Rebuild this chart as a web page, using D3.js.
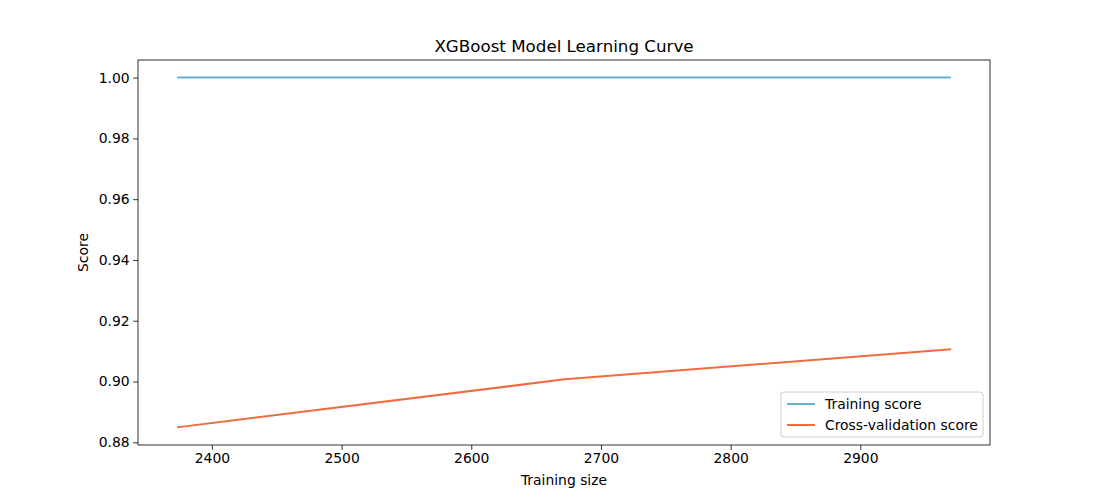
<!DOCTYPE html>
<html lang="en">
<head>
<meta charset="UTF-8">
<title>XGBoost Model Learning Curve</title>
<script src="https://d3js.org/d3.v7.min.js"></script>
<style>
  body { margin: 0; background: #fff; }
  text { font-family: "DejaVu Sans", sans-serif; fill: #000; }
</style>
</head>
<body>
<svg id="chart" width="1100" height="500"></svg>
<script>
// data
var trainSizes = [2373, 2672, 2970];
var trainScores = [1.0, 1.0, 1.0];
var cvScores = [0.8849, 0.9007, 0.9106];
var xTicks = [2400, 2500, 2600, 2700, 2800, 2900];
var yTicks = [0.88, 0.90, 0.92, 0.94, 0.96, 0.98, 1.00];
var seriesNames = ["Training score", "Cross-validation score"];
var seriesColors = ["#6aaed6", "#f26b3f"];

(function () {
var svg = d3.select("#chart");
var pLeft = 138, pRight = 990, pTop = 60, pBottom = 445;

var x = d3.scaleLinear().domain([2343, 3000]).range([pLeft, pRight]);
var y = d3.scaleLinear().domain([0.8791, 1.0058]).range([pBottom, pTop]);

var xAxis = d3.axisBottom(x).tickValues(xTicks).tickSize(4.9).tickPadding(3.5).tickFormat(d3.format("d"));
var yAxis = d3.axisLeft(y).tickValues(yTicks).tickSize(4.9).tickPadding(3.5).tickFormat(d3.format(".2f"));

var gx = svg.append("g").attr("transform", "translate(0," + pBottom + ")").call(xAxis);
var gy = svg.append("g").attr("transform", "translate(" + pLeft + ",0)").call(yAxis);
[gx, gy].forEach(function (g) {
    g.select(".domain").remove();
    g.selectAll("text").style("font-size", "13.9px").style("font-family", "DejaVu Sans");
    g.selectAll("line").attr("stroke", "#000").attr("stroke-width", 0.8);
});

var line = d3.line().x(function (d) { return x(d[0]); }).y(function (d) { return y(d[1]); });
[trainScores, cvScores].forEach(function (s, i) {
    svg.append("path")
        .datum(trainSizes.map(function (t, j) { return [t, s[j]]; }))
        .attr("d", line)
        .attr("fill", "none")
        .attr("stroke", seriesColors[i])
        .attr("stroke-width", 2);
});

svg.append("rect").attr("x", pLeft).attr("y", pTop).attr("width", pRight - pLeft).attr("height", pBottom - pTop)
    .attr("fill", "none").attr("stroke", "#000").attr("stroke-width", 0.8);

svg.append("text").attr("x", (pLeft + pRight) / 2).attr("y", pTop - 8).attr("text-anchor", "middle")
    .style("font-size", "16.7px").text("XGBoost Model Learning Curve");
svg.append("text").attr("x", (pLeft + pRight) / 2).attr("y", 485).attr("text-anchor", "middle")
    .style("font-size", "13.9px").text("Training size");
svg.append("text").attr("transform", "translate(88," + (pTop + pBottom) / 2 + ") rotate(-90)")
    .attr("text-anchor", "middle").style("font-size", "13.9px").text("Score");

// legend
var lg = svg.append("g").attr("transform", "translate(781,392)");
lg.append("rect").attr("width", 202).attr("height", 45).attr("rx", 3)
    .attr("fill", "#fff").attr("fill-opacity", 0.8).attr("stroke", "#ccc");
seriesNames.forEach(function (n, i) {
    var yy = 12 + i * 21;
    lg.append("line").attr("x1", 6).attr("x2", 34).attr("y1", yy).attr("y2", yy)
        .attr("stroke", seriesColors[i]).attr("stroke-width", 2);
    lg.append("text").attr("x", 44).attr("y", yy + 5).style("font-size", "13.9px").text(n);
});
})();
</script>
</body>
</html>
